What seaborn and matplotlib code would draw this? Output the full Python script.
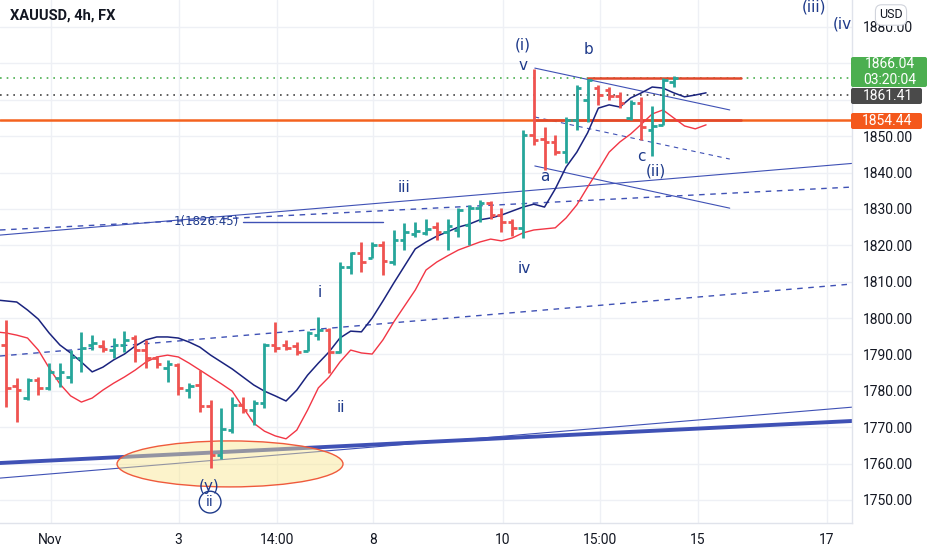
import matplotlib
matplotlib.use("Agg")
import matplotlib.pyplot as plt
from matplotlib.patches import Ellipse, FancyBboxPatch
from matplotlib.transforms import IdentityTransform
import pandas as pd
import seaborn as sns

# --- 4h OHLC bars ---
bar_open = [1792.6, 1781.3, 1778.0, 1783.0, 1780.8, 1783.5, 1783.8, 1789.0, 1792.6, 1792.3,
            1791.2, 1792.6, 1794.5, 1791.2, 1789.0, 1786.3, 1787.0, 1780.2, 1781.6, 1775.8,
            1762.4, 1769.2, 1776.1, 1774.7, 1776.6, 1792.6, 1792.6, 1792.3, 1790.9, 1795.3,
            1796.7, 1790.7, 1814.0, 1817.9, 1816.5, 1820.1, 1815.4, 1821.5, 1823.1, 1823.4,
            1825.0, 1823.7, 1824.2, 1825.6, 1830.2, 1831.6, 1828.3, 1826.4, 1824.8, 1850.3,
            1849.2, 1848.4, 1845.6, 1854.4, 1859.9, 1863.2, 1862.7, 1861.0, 1855.0, 1859.1,
            1851.7, 1853.1, 1864.9]
bar_high = [1799.5, 1783.5, 1783.5, 1783.8, 1787.6, 1787.6, 1791.2, 1796.2, 1795.3, 1794.0,
            1794.5, 1796.4, 1795.3, 1794.0, 1789.6, 1788.5, 1787.6, 1782.1, 1785.7, 1777.5,
            1775.3, 1778.3, 1778.3, 1777.5, 1793.1, 1798.9, 1794.0, 1793.4, 1796.4, 1800.3,
            1797.3, 1815.4, 1818.2, 1820.9, 1820.9, 1821.2, 1824.2, 1826.1, 1826.4, 1827.2,
            1826.4, 1827.2, 1830.2, 1831.1, 1832.4, 1832.2, 1830.2, 1827.2, 1851.7, 1868.5,
            1852.5, 1850.3, 1855.3, 1864.1, 1865.7, 1864.1, 1863.5, 1862.1, 1859.9, 1860.8,
            1858.3, 1866.0, 1866.5]
bar_low = [1775.5, 1771.4, 1777.5, 1778.8, 1780.2, 1781.0, 1782.1, 1785.2, 1791.2, 1790.7,
           1789.0, 1790.7, 1787.9, 1786.3, 1786.3, 1782.4, 1778.8, 1778.0, 1774.2, 1758.8,
           1761.3, 1768.4, 1773.9, 1770.6, 1775.3, 1790.7, 1791.2, 1789.8, 1790.9, 1794.0,
           1784.9, 1790.4, 1812.1, 1812.7, 1816.5, 1811.8, 1814.6, 1818.7, 1822.3, 1822.8,
           1821.5, 1818.7, 1822.3, 1820.1, 1826.4, 1827.2, 1823.7, 1822.5, 1822.0, 1847.6,
           1840.7, 1844.8, 1842.6, 1851.7, 1853.9, 1858.6, 1859.9, 1857.7, 1854.4, 1848.9,
           1844.5, 1853.1, 1863.5]
bar_close = [1780.8, 1780.2, 1783.0, 1780.8, 1785.2, 1785.2, 1789.3, 1791.8, 1793.1, 1791.5,
             1792.6, 1794.0, 1791.2, 1789.0, 1787.4, 1787.4, 1780.8, 1781.3, 1775.8, 1762.4,
             1769.5, 1776.1, 1774.7, 1776.6, 1792.6, 1791.8, 1791.8, 1790.7, 1795.9, 1796.7,
             1790.7, 1814.0, 1817.9, 1815.4, 1820.1, 1815.7, 1821.5, 1823.7, 1823.9, 1824.5,
             1823.7, 1825.3, 1829.7, 1830.2, 1831.6, 1828.3, 1826.4, 1824.8, 1850.3, 1848.9,
             1848.4, 1845.6, 1854.4, 1863.2, 1865.4, 1861.3, 1861.0, 1859.1, 1859.1, 1852.5,
             1852.8, 1865.4, 1866.04]

# --- envelope indicator (bar index -1 .. 65) ---
band_start = -1
band_upper = [1805.0, 1804.7, 1804.4, 1802.2, 1799.7, 1795.9, 1792.6, 1790.4, 1787.9, 1785.2,
              1786.5, 1788.5, 1790.1, 1792.3, 1794.0, 1794.8, 1794.8, 1794.5, 1793.4, 1792.0,
              1789.8, 1787.9, 1786.0, 1783.8, 1781.6, 1779.9, 1778.6, 1777.2, 1780.2, 1784.3,
              1787.6, 1790.7, 1794.5, 1796.4, 1796.2, 1800.0, 1804.7, 1809.6, 1814.3, 1819.0,
              1820.9, 1822.5, 1823.7, 1825.0, 1825.8, 1827.0, 1827.5, 1828.3, 1829.4, 1830.5,
              1831.3, 1830.5, 1835.5, 1841.5, 1845.6, 1850.9, 1857.7, 1858.6, 1858.0, 1860.5,
              1861.9, 1863.5, 1863.2, 1861.9, 1860.8, 1861.3, 1861.9]
band_lower = [1796.2, 1795.9, 1795.3, 1794.5, 1791.2, 1786.3, 1781.9, 1778.6, 1776.9, 1778.0,
              1780.2, 1782.1, 1783.8, 1785.7, 1787.9, 1789.3, 1789.8, 1789.3, 1787.6, 1785.7,
              1783.8, 1781.9, 1779.9, 1775.5, 1771.1, 1768.9, 1767.6, 1766.8, 1769.2, 1774.7,
              1780.8, 1783.8, 1787.9, 1791.2, 1790.4, 1790.1, 1794.0, 1798.9, 1803.3, 1807.7,
              1813.2, 1815.4, 1817.1, 1818.7, 1819.8, 1820.9, 1821.7, 1821.2, 1822.0, 1823.4,
              1824.2, 1824.5, 1824.8, 1827.5, 1831.1, 1836.0, 1840.7, 1845.6, 1848.4, 1850.6,
              1853.3, 1856.1, 1857.2, 1855.0, 1852.8, 1852.0, 1853.1]

# --- time axis ---
time_tick_pos = [4.14, 16.03, 25.16, 34.08, 46.15, 55.15, 64.25, 76.23]
time_tick_labels = ["Nov", "3", "14:00", "8", "10", "15:00", "15", "17"]
price_ticks = list(range(1750, 1890, 10))
hidden_ticks = [1860, 1870]  # covered by the price badges

last_price = 1866.04
countdown = "03:20:04"
prev_close = 1861.41
level_price = 1854.44

# --- drawings: (index, price) pairs ---
thick_trend = [(-0.56, 1760.15), (78.55, 1771.7)]
thin_trend = [(-0.56, 1756.0), (78.55, 1775.5)]
dash_low = [(-0.56, 1789.56), (78.55, 1809.35)]
dash_high = [(-0.56, 1824.2), (78.55, 1836.0)]
solid_iii = [(-0.56, 1822.8), (78.55, 1842.5)]
wedge_top = [(49.1, 1868.7), (67.2, 1857.2)]
wedge_mid = [(49.1, 1855.26), (67.2, 1843.7)]
wedge_bot = [(49.1, 1841.8), (67.2, 1830.2)]
marker_line = [(22.0, 1826.45), (35.0, 1826.45)]
b_top_line = [(54.0, 1866.0), (68.2, 1866.0)]
level_seg = [(49.0, level_price), (68.2, level_price)]

wave_labels = ["(i)", "v", "b", "a", "c", "(ii)", "iii", "iv", "i", "ii", "(y)", "(iii)", "(iv)"]
wave_x = [48.0, 48.0, 54.1, 50.0, 59.0, 60.3, 37.0, 48.1, 29.1, 31.1, 18.85, 75.0, 77.9]
wave_y = [1875.0, 1869.3, 1873.7, 1838.8, 1844.3, 1840.4, 1836.0, 1813.5, 1806.9, 1775.5,
          1753.6, 1885.6, 1880.8]

GREEN = "#26a69a"
RED = "#ef5350"
NAVY = "#1e3a8a"
TREND = "#3f51b5"

sns.set_theme(style="white")
plt.rcParams["font.family"] = ["Roboto", "DejaVu Sans"]

df = pd.DataFrame({"open": bar_open, "high": bar_high, "low": bar_low, "close": bar_close})
df["idx"] = range(len(df))
df["color"] = [GREEN if c >= o else RED for o, c in zip(df["open"], df["close"])]

bands = pd.DataFrame({"idx": range(band_start, band_start + len(band_upper)),
                      "upper": band_upper, "lower": band_lower})

fig = plt.figure(figsize=(9.32, 5.5), dpi=100)
fig.patch.set_facecolor("white")
ax = fig.add_axes([0, 27 / 550, 852 / 932, 523 / 550])
ax.set_facecolor("white")
ax.set_xlim(-0.557, 78.55)
ax.set_ylim(1743.66, 1887.42)

# grid
for x in time_tick_pos:
    ax.axvline(x, color="#eef0f5", lw=1, zorder=0)
for p in price_ticks:
    ax.axhline(p, color="#eef0f5", lw=1, zorder=0)

# trend lines
ax.axline(*thick_trend, color=TREND, lw=2.8, zorder=1)
ax.axline(*thin_trend, color=TREND, lw=0.8, zorder=1)
ax.axline(*solid_iii, color=TREND, lw=0.8, zorder=1)
ax.axline(*dash_low, color=TREND, lw=1.0, ls=(0, (4, 4)), zorder=1)
ax.axline(*dash_high, color=TREND, lw=1.0, ls=(0, (4, 4)), zorder=1)
for seg, ls in [(wedge_top, "-"), (wedge_bot, "-"), (wedge_mid, (0, (4, 4)))]:
    ax.plot([seg[0][0], seg[1][0]], [seg[0][1], seg[1][1]], color=TREND, lw=0.8, ls=ls, zorder=1)
ax.plot([marker_line[0][0], marker_line[1][0]], [marker_line[0][1], marker_line[1][1]],
        color=TREND, lw=1.0, zorder=1)
ax.text(21.6, 1826.45, "1(1826.45)", color=NAVY, fontsize=8.5, ha="right", va="center",
        family="DejaVu Sans", zorder=2)

# price lines
ax.axhline(last_price, color="#4caf50", lw=1.2, ls=(0, (1, 3)), zorder=1)
ax.axhline(prev_close, color="#444444", lw=1.2, ls=(0, (1, 3)), zorder=1)
ax.axhline(level_price, color="#f4621f", lw=1.8, zorder=1)
ax.plot([level_seg[0][0], level_seg[1][0]], [level_price, level_price], color="#e2482b",
        lw=1.8, zorder=1)
ax.plot([b_top_line[0][0], b_top_line[1][0]], [b_top_line[0][1], b_top_line[1][1]],
        color="#e2482b", lw=1.8, zorder=1)

# highlight ellipse
ax.add_patch(Ellipse((20.8, 1759.9), 20.98, 12.64, facecolor=(0.98, 0.90, 0.55, 0.45),
                     edgecolor="#ef5a3c", lw=1.0, zorder=2))

# envelope
sns.lineplot(data=bands, x="idx", y="upper", ax=ax, color="#1a237e", lw=1.1,
             estimator=None, zorder=3)
sns.lineplot(data=bands, x="idx", y="lower", ax=ax, color="#f23645", lw=1.0,
             estimator=None, zorder=3)

# OHLC bars
ax.vlines(df["idx"], df["low"], df["high"], colors=df["color"], lw=2.0, zorder=4)
ax.hlines(df["open"], df["idx"] - 0.42, df["idx"], colors=df["color"], lw=2.0, zorder=4)
ax.hlines(df["close"], df["idx"], df["idx"] + 0.42, colors=df["color"], lw=2.0, zorder=4)

# wave labels
for s, x, y in zip(wave_labels, wave_x, wave_y):
    ax.text(x, y, s, color=NAVY, fontsize=11, ha="center", va="center",
            family="DejaVu Sans", zorder=5, clip_on=True)
ax.text(18.95, 1749.4, "ii", color=NAVY, fontsize=10, ha="center", va="center",
        family="DejaVu Sans", zorder=5,
        bbox=dict(boxstyle="circle,pad=0.28", facecolor="none", edgecolor=NAVY, lw=1.0))

# axes styling
ax.set_xlabel("")
ax.set_ylabel("")
for side in ["top", "left"]:
    ax.spines[side].set_visible(False)
for side in ["right", "bottom"]:
    ax.spines[side].set_color("#e0e3eb")
    ax.spines[side].set_linewidth(1)
ax.set_xticks(time_tick_pos)
ax.set_xticklabels(time_tick_labels)
ax.yaxis.tick_right()
ax.set_yticks(price_ticks)
ax.set_yticklabels(["" if p in hidden_ticks else f"{p:.2f}" for p in price_ticks])
ax.tick_params(axis="x", length=0, pad=7, labelsize=10, labelcolor="#131722")
ax.tick_params(axis="y", length=0, pad=8, labelsize=10, labelcolor="#131722")

# header
fig.text(10 / 932, 1 - 16 / 550, "XAUUSD, 4h, FX", fontsize=10.5, fontweight="bold",
         color="#131722", va="center", ha="left")
fig.text(891 / 932, 1 - 15 / 550, "USD", fontsize=9, color="#131722", va="center", ha="center",
         bbox=dict(boxstyle="round,pad=0.3,rounding_size=0.5", facecolor="white",
                   edgecolor="#d1d4dc", lw=0.8))

# price badges on the right scale (pixel space, y from bottom)
H = 550


def badge(top, bottom, width, color, lines):
    fig.add_artist(FancyBboxPatch((851, H - bottom), width, bottom - top,
                                  boxstyle="round,pad=0,rounding_size=2",
                                  facecolor=color, edgecolor="none",
                                  transform=IdentityTransform(), zorder=5))
    n = len(lines)
    step = (bottom - top) / n
    for k, s in enumerate(lines):
        yc = top + step * (k + 0.5)
        fig.text(851 + width / 2 + 1, H - yc, s, color="white", fontsize=10, ha="center",
                 va="center", transform=IdentityTransform(), zorder=6)


badge(57, 87, 76, "#4caf50", [f"{last_price:.2f}", countdown])
badge(88, 104, 71, "#4a4a4a", [f"{prev_close:.2f}"])
badge(113, 129, 71, "#f4581c", [f"{level_price:.2f}"])

fig.savefig("out.png", dpi=100, facecolor="white")
